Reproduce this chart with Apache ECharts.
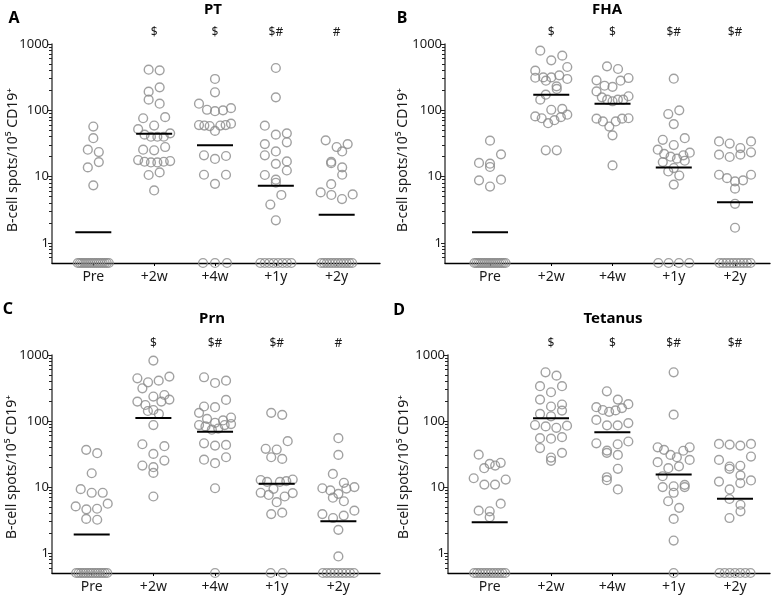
<!DOCTYPE html>
<html><head><meta charset="utf-8">
<script src="https://cdn.jsdelivr.net/npm/echarts@6/dist/echarts.min.js"></script>
<style>html,body{margin:0;padding:0;background:#fff}#main{width:777px;height:596px}</style>
</head><body><div id="main"></div>
<script>
// ---------- data ----------
const categories = ['Pre', '+2w', '+4w', '+1y', '+2y'];
const yTicks = [1, 10, 100, 1000];
const yMinorTicks = [0.6, 0.7, 0.8, 0.9, 2, 3, 4, 5, 6, 7, 8, 9, 20, 30, 40, 50, 60, 70, 80, 90, 200, 300, 400, 500, 600, 700, 800, 900];
const yName = 'B-cell spots/10\u2075 CD19\u207A';

// PT
const pt_pre = [57, 38, 25.5, 23.5, 16.6, 13.8, 7.4, 0, 0, 0, 0, 0, 0, 0, 0, 0, 0, 0, 0, 0, 0, 0, 0];
const pt_2w = [410, 401, 222, 191, 145, 126, 79, 76, 59, 52, 45, 43, 40, 40, 40, 28, 25.5, 25, 17.8, 17.2, 16.8, 16.8, 16.4, 16.4, 11.6, 10.6, 6.2];
const pt_4w = [297, 187, 126, 108, 102, 100, 97, 63, 60, 60, 59, 59, 58, 49, 21, 20.5, 18.5, 10.7, 10.7, 7.8, 0, 0, 0];
const pt_1y = [435, 157, 58.7, 45, 43, 33, 31, 24, 21, 17, 15.6, 12.4, 10.6, 9, 8.1, 5.3, 3.8, 2.2, 0, 0, 0, 0, 0, 0, 0, 0];
const pt_2y = [35.3, 31, 28, 24, 16.8, 16, 13.8, 10.7, 7.7, 5.8, 5.4, 5.3, 4.6, 0, 0, 0, 0, 0, 0, 0, 0, 0, 0, 0, 0];
const pt_median = [1.45, 44.5, 29.7, 7.3, 2.67];
const pt_marks = ['', '$', '$', '$#', '#'];

// FHA
const fha_pre = [34.9, 21.7, 16.1, 15.7, 14, 9, 8.8, 7.1, 0, 0, 0, 0, 0, 0, 0, 0, 0, 0, 0, 0, 0, 0, 0, 0];
const fha_2w = [794, 667, 567, 450, 396, 337, 314, 314, 310, 297, 280, 230, 210, 172, 145, 105, 102, 86, 81, 79, 76, 71, 64, 25, 25];
const fha_4w = [460, 420, 307, 283, 280, 235, 226, 193, 163, 157, 145, 145, 145, 137, 76, 75, 75, 68, 68, 57, 42, 14.8];
const fha_1y = [300, 100, 88, 62, 38, 36, 30, 25.5, 23, 22, 21, 20, 18.7, 17.4, 16.6, 13.5, 12, 10.4, 7.6, 0, 0, 0, 0];
const fha_2y = [34, 34, 31.6, 27, 23.3, 21.5, 21.5, 19.8, 10.7, 10.7, 9.5, 8.8, 8.5, 6.6, 3.9, 1.7, 0, 0, 0, 0, 0, 0, 0, 0, 0, 0];
const fha_median = [1.46, 172, 126, 13.8, 4.1];
const fha_marks = ['', '$', '$', '$#', '$#'];

// Prn
const prn_pre = [36.6, 32.6, 16.2, 9.3, 8.2, 8.2, 5.6, 5.1, 4.7, 4.6, 3.3, 3.2, 0, 0, 0, 0, 0, 0, 0, 0, 0, 0, 0, 0, 0, 0];
const prn_2w = [822, 471, 444, 409, 386, 313, 248, 235, 211, 197, 197, 175, 147, 142, 128, 87, 44.5, 41.6, 31.8, 25.2, 21.2, 20, 16.4, 7.2];
const prn_4w = [460, 409, 377, 209, 166, 162, 133, 113, 108, 102, 94, 90, 87, 87, 83, 77, 74, 46, 43.5, 42.5, 28.3, 26, 23, 9.6, 0];
const prn_1y = [133, 124, 49.5, 38, 37, 28.3, 26.7, 13, 12.8, 12.3, 12, 12, 9.4, 8.2, 8.1, 7.6, 7.2, 5.9, 4.1, 3.9, 0, 0];
const prn_2y = [55, 30.7, 15.8, 11.6, 10, 9.6, 9.5, 8.9, 7.9, 6.9, 6.1, 4.4, 3.9, 3.7, 3.4, 2.25, 0.89, 0, 0, 0, 0, 0, 0, 0, 0, 0];
const prn_median = [1.92, 111, 69, 11.2, 3.05];
const prn_marks = ['', '$', '$#', '$#', '#'];

// Tetanus
const tet_pre = [31, 23.3, 22.4, 21.2, 19.3, 13.6, 13, 10.9, 10.9, 5.6, 4.4, 4.3, 3.5, 0, 0, 0, 0, 0, 0, 0, 0, 0, 0, 0, 0];
const tet_2w = [547, 487, 337, 337, 273, 211, 178, 166, 144, 128, 118, 87, 85, 83, 79, 57, 55, 54, 39, 33, 28, 25];
const tet_4w = [282, 211, 180, 162, 157, 147, 145, 138, 104, 93, 86, 86, 49, 46, 44.5, 35.7, 33, 30.7, 18.9, 14.1, 12.7, 9.2];
const tet_1y = [547, 125, 40, 40, 36.6, 35.5, 30.7, 28.3, 25.8, 23.8, 20.6, 19.3, 14.6, 10.8, 10.3, 10, 10, 8.2, 6.1, 4.85, 3.3, 1.55, 0];
const tet_2y = [45, 45, 44, 42.5, 29, 25.8, 21, 20.5, 18.9, 15, 12.6, 12.1, 11.5, 9.2, 6.6, 5.4, 4.3, 3.4, 0, 0, 0, 0, 0, 0, 0];
const tet_median = [2.94, 110, 67.7, 15.5, 6.63];
const tet_marks = ['', '$', '$', '$#', '$#'];

const panels = [
  { title: 'PT', letter: 'A', groups: [pt_pre, pt_2w, pt_4w, pt_1y, pt_2y], median: pt_median, marks: pt_marks },
  { title: 'FHA', letter: 'B', groups: [fha_pre, fha_2w, fha_4w, fha_1y, fha_2y], median: fha_median, marks: fha_marks },
  { title: 'Prn', letter: 'C', groups: [prn_pre, prn_2w, prn_4w, prn_1y, prn_2y], median: prn_median, marks: prn_marks },
  { title: 'Tetanus', letter: 'D', groups: [tet_pre, tet_2w, tet_4w, tet_1y, tet_2y], median: tet_median, marks: tet_marks }
];

// ---------- layout ----------
const FONT = '"Noto Sans", "Open Sans", sans-serif';
const FLOOR = 0.5, YMAX = 1000;
const layout = [
  { left: 52, top: 44, width: 328, height: 219, xmin: -0.679, xmax: 4.712, letterPos: [14, 18], titlePos: [213, 10], namePos: [13, 160] },
  { left: 445, top: 44, width: 325, height: 219, xmin: -0.735, xmax: 4.571, letterPos: [402, 18], titlePos: [607, 10], namePos: [403, 160] },
  { left: 52, top: 355, width: 328, height: 218, xmin: -0.644, xmax: 4.675, letterPos: [8, 309], titlePos: [212, 319], namePos: [12.5, 467] },
  { left: 448, top: 355, width: 322, height: 218, xmin: -0.68, xmax: 4.571, letterPos: [399, 310], titlePos: [613, 319], namePos: [404, 467] }
];
const catIdx = categories.map((c, i) => i);

const chart = echarts.init(document.getElementById('main'), null, { renderer: 'canvas' });

const grids = [], xAxes = [], yAxes = [], graphics = [];
layout.forEach((L, i) => {
  grids.push({ left: L.left, top: L.top, width: L.width, height: L.height, containLabel: false, outerBoundsMode: 'none' });
  xAxes.push({
    gridIndex: i, type: 'value', position: 'bottom', min: L.xmin, max: L.xmax,
    axisLine: { show: true, onZero: false, lineStyle: { color: '#000', width: 1.3 } },
    axisTick: { show: true, customValues: catIdx, length: 3, lineStyle: { color: '#000', width: 1 } },
    axisLabel: { customValues: catIdx, formatter: v => categories[Math.round(v)], color: '#1a1a1a', fontSize: 14, fontFamily: FONT, margin: 7 },
    splitLine: { show: false }
  });
  xAxes.push({
    gridIndex: i, type: 'value', position: 'top', min: L.xmin, max: L.xmax,
    axisLine: { show: false, onZero: false }, axisTick: { show: false },
    axisLabel: { customValues: catIdx, formatter: v => panels[i].marks[Math.round(v)], color: '#1a1a1a', fontSize: 12, fontFamily: FONT, margin: 5 },
    splitLine: { show: false }
  });
  yAxes.push({
    gridIndex: i, type: 'log', logBase: 10, position: 'left', min: FLOOR, max: YMAX,
    axisLine: { show: true, onZero: false, lineStyle: { color: '#4a4a4a', width: 1.5 } },
    axisTick: { show: true, customValues: yTicks, length: 4, lineStyle: { color: '#222', width: 1 } },
    axisLabel: { customValues: yTicks, formatter: v => String(Math.round(v)), color: '#1a1a1a', fontSize: 13, fontFamily: FONT, margin: 3 },
    splitLine: { show: false }
  });
  yAxes.push({
    gridIndex: i, type: 'log', logBase: 10, position: 'left', offset: 0, min: FLOOR, max: YMAX,
    axisLine: { show: false, onZero: false },
    axisTick: { show: true, customValues: yMinorTicks, length: 3, lineStyle: { color: '#222', width: 1 } },
    axisLabel: { show: false },
    splitLine: { show: false }
  });
  graphics.push({ type: 'text', x: L.letterPos[0], y: L.letterPos[1], style: { text: panels[i].letter, font: 'bold 16px ' + FONT, fill: '#000', align: 'center', verticalAlign: 'middle' } });
  graphics.push({ type: 'text', x: L.titlePos[0], y: L.titlePos[1], style: { text: panels[i].title, font: 'bold 15px ' + FONT, fill: '#000', align: 'center', verticalAlign: 'middle' } });
  graphics.push({ type: 'text', x: L.namePos[0], y: L.namePos[1], rotation: Math.PI / 2, style: { text: yName, font: '14px ' + FONT, fill: '#1a1a1a', align: 'center', verticalAlign: 'middle' } });
});

chart.setOption({
  animation: false,
  backgroundColor: '#fff',
  grid: grids, xAxis: xAxes, yAxis: yAxes, graphic: graphics,
  series: panels.map((p, i) => ({ type: 'scatter', xAxisIndex: 2 * i, yAxisIndex: 2 * i, data: [] }))
});

// ---------- row-binned scatter layout, through the axes' own scales ----------
const SYM = 8.8, BIN_H = 10.5, SP = 11, ROW_W = 32, ZSPAN = 31, ZMAXSP = 12;
const series = [];
panels.forEach((p, i) => {
  const finder = { xAxisIndex: 2 * i, yAxisIndex: 2 * i };
  const a = chart.convertToPixel(finder, [0, 1]);
  const b = chart.convertToPixel(finder, [1, 1]);
  const unit = b[0] - a[0];
  const pts = [];
  p.groups.forEach((vals, g) => {
    const nZero = vals.filter(v => v <= 0).length;
    const sp = nZero > 1 ? Math.min(ZMAXSP, ZSPAN / (nZero - 1)) : 0;
    for (let k = 0; k < nZero; k++) pts.push([g + (k - (nZero - 1) / 2) * sp / unit, FLOOR]);
    const nz = vals.filter(v => v > 0).slice().sort((u, w) => w - u);
    const rows = [];
    let cur = null;
    nz.forEach(v => {
      const py = chart.convertToPixel(finder, [g, v])[1];
      if (!cur || py - cur.top >= BIN_H) { cur = { top: py, items: [] }; rows.push(cur); }
      cur.items.push(v);
    });
    rows.forEach((r, ri) => {
      const n = r.items.length;
      const s = n > 1 ? Math.min(SP, ROW_W / (n - 1)) : 0;
      const order = [];
      for (let k = 0; k < n; k++) order.push(k % 2 === 0 ? k / 2 : n - 1 - (k - 1) / 2);
      r.items.forEach((v, k) => {
        const pos = (ri % 2 ? n - 1 - order[k] : order[k]);
        pts.push([g + (pos - (n - 1) / 2) * s / unit, v]);
      });
    });
  });
  series.push({
    type: 'scatter', xAxisIndex: 2 * i, yAxisIndex: 2 * i, data: pts, clip: false,
    symbol: 'circle', symbolSize: SYM, silent: true,
    itemStyle: { color: 'rgba(255,255,255,0)', borderColor: '#8a8a8a', borderWidth: 1.4 },
    z: 2
  });
  series.push({
    type: 'custom', xAxisIndex: 2 * i, yAxisIndex: 2 * i, clip: false, silent: true, z: 3,
    data: p.median.map((m, g) => [g, m]),
    renderItem: (params, api) => {
      const c = api.coord([api.value(0), api.value(1)]);
      return { type: 'line', shape: { x1: c[0] - 18, y1: c[1], x2: c[0] + 18, y2: c[1] }, style: { stroke: '#000', lineWidth: 2 } };
    }
  });
});
chart.setOption({ series: series }, { replaceMerge: ['series'] });
</script>
</body></html>
